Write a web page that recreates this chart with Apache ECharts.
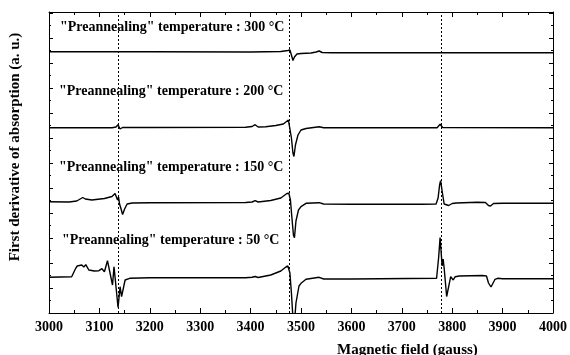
<!DOCTYPE html>
<html><head><meta charset="utf-8">
<script src="https://cdn.jsdelivr.net/npm/echarts@6/dist/echarts.min.js"></script>
<style>html,body{margin:0;padding:0;background:#fff}#c{width:570px;height:355px}</style>
</head><body><div id="c"></div>
<script>
// Trace: "Preannealing" 300 °C
const field300 = [3000,3200,3400,3460,3474,3478,3481,3484,3487,3492,3500,3520,3530,3536,3542,3560,3700,4000];
const signal300 = [261.3,261.2,261,261.5,262.5,263,258,252.5,256,259,259.5,260,261,262,260.5,260.3,260.3,260.3];
// Trace: 200 °C
const field200 = [3000,3125,3133,3137,3141,3146,3200,3390,3403,3409,3415,3430,3450,3465,3475,3478,3481,3484,3486,3489,3494,3500,3510,3536,3545,3600,3770,3776,3781,4000];
const signal200 = [185.3,185.3,186,188.3,184,185.5,185.5,185.7,186.5,188.3,186,186.3,187.5,189,193,191,175,160,156.5,168,178,183,184.5,186.3,185.3,185.3,185.3,188.7,185.5,185.3];
// Trace: 150 °C
const field150 = [3000,3040,3055,3067,3072,3085,3110,3125,3131,3134,3136,3138,3140,3143,3146,3150,3155,3165,3200,3390,3403,3409,3415,3440,3460,3472,3476,3479,3482,3485,3487,3490,3495,3500,3510,3536,3545,3600,3740,3768,3772,3775,3777,3780,3784,3793,3800,3808,3850,3866,3872,3876,3882,3900,4000];
const signal150 = [111.3,111,112,115.5,114,113,114.5,116.5,119.5,120,113,116,109,104,98.5,104,109,110,110.3,110.5,111,112.3,111,112.5,115,119.5,119.7,113,95,78,75.3,92,103,106.3,109.7,110.3,109,108.8,108.8,109,115,128,132.3,122,109,107.5,109.5,110,110.7,110.5,107.5,107,109.5,109.7,109.7];
// Trace: 50 °C
const field50 = [3000,3045,3053,3056,3059,3065,3069,3073,3079,3090,3099,3105,3110,3116,3126,3129,3137,3141,3144,3151,3160,3200,3390,3403,3409,3415,3440,3460,3470,3474,3478,3481,3484,3487,3490,3496,3500,3510,3536,3545,3600,3769,3773,3776,3780,3782,3784,3789,3797,3802,3806,3814,3860,3868,3872,3877,3885,3890,3900,4000];
const signal50 = [35.7,36.3,44.7,47,45,48,46,48.3,43,42,42.3,44.3,41.3,52.3,28,46.3,5.5,26.3,16.3,33,34.7,35.3,35.3,35.7,36.5,35.5,38,42,46,47,40,20,-5,-10,10,27,29.7,33.7,35.7,34,34,34.7,55,75.5,47,54,45,16.5,36.3,33,36.3,37,37.5,37,30,26,33.7,34.7,34.3,34.3];

const traceLabels = ['"Preannealing" temperature : 300 °C','"Preannealing" temperature : 200 °C','"Preannealing" temperature : 150 °C','"Preannealing" temperature : 50 °C'];
const refFields = [3137, 3476, 3779];
const xTitle = 'Magnetic field (gauss)';
const yTitle = 'First derivative of absorption (a. u.)';

const FONT = "'Liberation Serif','Times New Roman',serif";
const zip = (xs, ys) => xs.map((x, i) => [x, ys[i]]);
const traces = [zip(field300, signal300), zip(field200, signal200), zip(field150, signal150), zip(field50, signal50)];

const chart = echarts.init(document.getElementById('c'), null, {renderer: 'canvas'});
function xAx(pos, labels) {
  return {
    type: 'value', position: pos, min: 3000, max: 4000, interval: 100,
    axisLine: {show: true, onZero: false, lineStyle: {color: '#000', width: 1}},
    axisTick: {show: true, inside: true, length: 5, lineStyle: {color: '#000'}},
    minorTick: {show: true, splitNumber: 2, length: 3, lineStyle: {color: '#000'}},
    axisLabel: {show: labels, color: '#000', fontFamily: FONT, fontWeight: 'bold', fontSize: 14, margin: 7,
      formatter: v => String(v)},
    splitLine: {show: false}, minorSplitLine: {show: false}
  };
}
function yAx(pos) {
  return {
    type: 'value', position: pos, min: 0, max: 301, interval: 25,
    axisLine: {show: true, onZero: false, lineStyle: {color: '#000', width: 1}},
    axisTick: {show: true, inside: true, length: 4, lineStyle: {color: '#000'}},
    minorTick: {show: true, splitNumber: 2, length: 2, lineStyle: {color: '#000'}},
    axisLabel: {show: false},
    splitLine: {show: false}, minorSplitLine: {show: false}
  };
}
const labelPos = [[60, 27], [59, 91], [59, 167], [62, 240]];
chart.setOption({
  animation: false,
  backgroundColor: '#fff',
  grid: {left: 49, right: 17, top: 12, bottom: 42},
  xAxis: [xAx('bottom', true), xAx('top', false)],
  yAxis: [yAx('left'), yAx('right')],
  series: traces.map((d, i) => ({
    type: 'line', data: d, showSymbol: false, clip: true, xAxisIndex: 0, yAxisIndex: 0,
    lineStyle: {color: '#000', width: 1.4},
    markLine: i === 0 ? {
      silent: true, symbol: 'none', label: {show: false},
      lineStyle: {color: '#000', type: [2, 2], width: 1},
      data: refFields.map(f => ({xAxis: f}))
    } : undefined
  })),
  graphic: traceLabels.map((t, i) => ({
    type: 'text', x: labelPos[i][0], y: labelPos[i][1],
    style: {text: t, fill: '#000', font: 'bold 14px ' + FONT, verticalAlign: 'middle'}
  })).concat([
    {type: 'text', x: 337, y: 350, style: {text: xTitle, fill: '#000', font: 'bold 15px ' + FONT, verticalAlign: 'middle'}},
    {type: 'text', x: 15, y: 147, rotation: Math.PI / 2,
     style: {text: yTitle, fill: '#000', font: 'bold 15px ' + FONT, align: 'center', verticalAlign: 'middle'}}
  ])
});
</script></body></html>
